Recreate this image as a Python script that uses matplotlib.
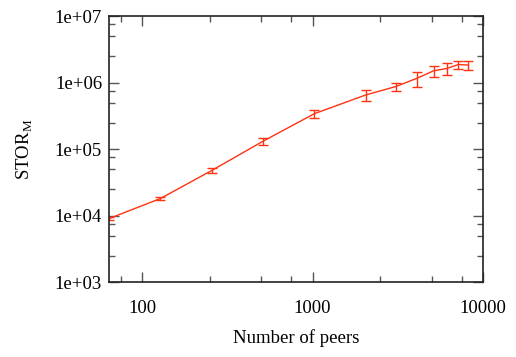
import numpy as np
import matplotlib.pyplot as plt
from matplotlib.ticker import FixedLocator, NullFormatter

plt.rcParams['font.family'] = ['Liberation Serif', 'DejaVu Serif']

# data
peers = [64, 128, 256, 512, 1024, 2048, 3072, 4096, 5120, 6144, 7168, 8192]
stor = [9.0e3, 1.8e4, 4.75e4, 1.31e5, 3.4e5, 6.5e5, 8.7e5, 1.16e6, 1.5e6, 1.63e6, 1.87e6, 1.83e6]
err = [4.0e2, 1.0e3, 3.5e3, 1.7e4, 4.4e4, 1.2e5, 1.2e5, 3.0e5, 2.8e5, 3.5e5, 2.6e5, 2.6e5]

ytick_labels = ['1e+03', '1e+04', '1e+05', '1e+06', '1e+07']
xtick_labels = ['100', '1000', '10000']

fig = plt.figure(figsize=(5.16, 3.57), dpi=100)
ax = fig.add_axes([0.2112, 0.21, 0.725, 0.745])

ax.errorbar(peers, stor, yerr=err, color='#ff3311', lw=1.0, elinewidth=1.0,
            capsize=3.3, capthick=1.0)

ax.set_xscale('log')
ax.set_yscale('log')
ax.set_xlim(64, 10000)
ax.set_ylim(1e3, 1e7)

ax.xaxis.set_major_locator(FixedLocator([100, 1000, 10000]))
ax.set_xticklabels(xtick_labels)
xminor = [d * m for d in [10, 100, 1000] for m in [2.5, 5, 7.5]]
ax.xaxis.set_minor_locator(FixedLocator(xminor))
ax.xaxis.set_minor_formatter(NullFormatter())

ax.yaxis.set_major_locator(FixedLocator([1e3, 1e4, 1e5, 1e6, 1e7]))
ax.set_yticklabels(ytick_labels)
yminor = [d * m for d in [1e3, 1e4, 1e5, 1e6] for m in [2.5, 5, 7.5]]
ax.yaxis.set_minor_locator(FixedLocator(yminor))
ax.yaxis.set_minor_formatter(NullFormatter())

ax.tick_params(which='both', direction='in', top=True, right=True,
               labelsize=13.5, color='#555555')
ax.tick_params(which='major', length=7, width=1.0)
ax.tick_params(which='minor', length=4, width=1.0)
ax.tick_params(axis='x', which='major', pad=13)
ax.tick_params(axis='y', which='major', pad=5)
for s in ax.spines.values():
    s.set_linewidth(1.2)
    s.set_color('#222222')

ax.set_xlabel('Number of peers', fontsize=13.5, labelpad=9)
ax.set_ylabel(r'STOR$_\mathregular{M}$', fontsize=13.5, labelpad=14)

plt.savefig('out.png', dpi=100)
